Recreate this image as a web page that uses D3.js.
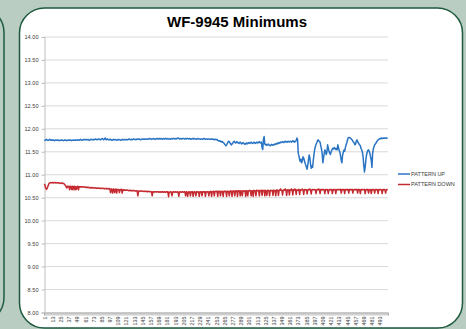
<!DOCTYPE html>
<html>
<head>
<meta charset="utf-8">
<script src="https://cdn.jsdelivr.net/npm/d3@7"></script>
<style>
  html, body { margin: 0; padding: 0; background: #b9cdc3; }
  svg { display: block; }
  text { font-family: "Liberation Sans", Arial, sans-serif; }
</style>
</head>
<body>
<svg id="chart" width="466" height="329"></svg>
<script>
// WF-9945 minimum readings per sample, both pattern directions
const title = "WF-9945 Minimums";
const seriesNames = ["PATTERN UP", "PATTERN DOWN"];
const yTicks = [8, 8.5, 9, 9.5, 10, 10.5, 11, 11.5, 12, 12.5, 13, 13.5, 14];

const patternUp = [
  11.75,11.74,11.75,11.76,11.75,11.74,11.74,11.75,11.76,11.75,11.74,11.75,
  11.74,11.75,11.74,11.73,11.74,11.75,11.74,11.74,11.75,11.74,11.73,11.74,
  11.74,11.75,11.74,11.74,11.73,11.74,11.75,11.74,11.74,11.73,11.74,11.75,
  11.74,11.74,11.75,11.74,11.73,11.74,11.74,11.75,11.74,11.74,11.75,11.74,
  11.74,11.75,11.75,11.74,11.75,11.76,11.75,11.74,11.75,11.75,11.76,11.75,
  11.75,11.76,11.75,11.75,11.76,11.75,11.74,11.75,11.76,11.76,11.75,11.75,
  11.76,11.75,11.76,11.77,11.76,11.75,11.76,11.76,11.77,11.76,11.75,11.76,
  11.77,11.78,11.76,11.75,11.77,11.79,11.76,11.75,11.77,11.76,11.75,11.76,
  11.75,11.76,11.75,11.74,11.75,11.76,11.75,11.75,11.76,11.75,11.74,11.75,
  11.75,11.76,11.75,11.75,11.74,11.75,11.76,11.75,11.75,11.76,11.75,11.75,
  11.76,11.75,11.75,11.76,11.77,11.76,11.75,11.76,11.76,11.75,11.76,11.77,
  11.76,11.76,11.75,11.76,11.77,11.76,11.76,11.77,11.76,11.75,11.76,11.76,
  11.77,11.76,11.76,11.77,11.76,11.76,11.77,11.77,11.76,11.77,11.78,11.77,
  11.77,11.76,11.77,11.77,11.78,11.77,11.76,11.77,11.77,11.78,11.77,11.77,
  11.78,11.77,11.77,11.78,11.77,11.76,11.77,11.78,11.77,11.77,11.78,11.77,
  11.77,11.78,11.77,11.77,11.76,11.77,11.78,11.77,11.77,11.78,11.78,11.77,
  11.77,11.78,11.77,11.78,11.79,11.78,11.77,11.77,11.78,11.77,11.77,11.78,
  11.78,11.77,11.77,11.78,11.77,11.78,11.78,11.77,11.77,11.78,11.77,11.76,
  11.77,11.78,11.77,11.77,11.78,11.77,11.77,11.76,11.77,11.78,11.77,11.77,
  11.77,11.76,11.77,11.77,11.76,11.77,11.78,11.77,11.76,11.77,11.77,11.76,
  11.77,11.77,11.76,11.76,11.77,11.76,11.76,11.77,11.76,11.75,11.76,11.76,
  11.75,11.76,11.74,11.73,11.72,11.73,11.71,11.72,11.70,11.71,11.69,11.68,
  11.66,11.64,11.62,11.64,11.67,11.70,11.72,11.71,11.68,11.66,11.64,11.66,
  11.68,11.70,11.72,11.70,11.68,11.69,11.71,11.70,11.68,11.67,11.69,11.70,
  11.68,11.66,11.67,11.69,11.68,11.66,11.65,11.67,11.68,11.66,11.67,11.69,
  11.68,11.67,11.69,11.70,11.68,11.67,11.68,11.70,11.69,11.67,11.68,11.70,
  11.69,11.68,11.70,11.71,11.69,11.68,11.70,11.58,11.54,11.76,11.82,11.66,
  11.64,11.65,11.63,11.64,11.66,11.64,11.63,11.62,11.64,11.65,11.63,11.64,
  11.65,11.64,11.66,11.65,11.67,11.66,11.68,11.67,11.69,11.68,11.70,11.69,
  11.70,11.71,11.70,11.69,11.71,11.72,11.70,11.71,11.70,11.72,11.71,11.70,
  11.71,11.72,11.70,11.71,11.73,11.72,11.70,11.72,11.71,11.74,11.79,11.76,
  11.46,11.40,11.32,11.28,11.33,11.25,11.30,11.38,11.35,11.30,11.24,11.20,
  11.15,11.11,11.20,11.32,11.42,11.36,11.22,11.13,11.18,11.15,11.30,11.42,
  11.53,11.60,11.65,11.68,11.72,11.75,11.73,11.71,11.70,11.62,11.55,11.46,
  11.25,11.35,11.45,11.53,11.50,11.43,11.48,11.64,11.58,11.50,11.46,11.43,
  11.48,11.52,11.55,11.57,11.55,11.58,11.56,11.54,11.56,11.53,11.64,11.58,
  11.52,11.48,11.40,11.30,11.25,11.42,11.48,11.53,11.50,11.58,11.63,11.68,
  11.74,11.79,11.80,11.80,11.79,11.78,11.76,11.75,11.72,11.70,11.68,11.64,
  11.66,11.72,11.75,11.71,11.68,11.66,11.64,11.62,11.56,11.53,11.48,11.38,
  11.20,11.05,11.15,11.30,11.42,11.48,11.52,11.53,11.50,11.45,11.38,11.30,
  11.15,11.46,11.55,11.60,11.64,11.66,11.68,11.71,11.73,11.75,11.76,11.77,
  11.78,11.77,11.79,11.78,11.78,11.79,11.78,11.79,11.79,11.78,11.79,11.79
];

const patternDown = [
  10.79,10.76,10.70,10.67,10.69,10.73,10.77,10.80,10.81,10.82,10.81,10.82,
  10.82,10.81,10.82,10.82,10.81,10.82,10.81,10.81,10.82,10.81,10.80,10.81,
  10.81,10.80,10.81,10.80,10.80,10.79,10.77,10.76,10.72,10.70,10.74,10.73,
  10.74,10.66,10.74,10.73,10.67,10.74,10.66,10.73,10.74,10.66,10.73,10.67,
  10.73,10.74,10.66,10.73,10.72,10.73,10.72,10.73,10.72,10.72,10.73,10.72,
  10.72,10.71,10.72,10.71,10.72,10.71,10.71,10.70,10.71,10.71,10.70,10.71,
  10.70,10.70,10.71,10.70,10.70,10.69,10.70,10.70,10.69,10.70,10.69,10.69,
  10.69,10.70,10.69,10.69,10.68,10.69,10.69,10.68,10.69,10.68,10.68,10.69,
  10.68,10.60,10.68,10.67,10.59,10.68,10.67,10.60,10.67,10.68,10.59,10.67,
  10.67,10.66,10.60,10.67,10.66,10.67,10.59,10.66,10.66,10.65,10.66,10.65,
  10.65,10.66,10.65,10.65,10.64,10.65,10.65,10.64,10.65,10.64,10.64,10.65,
  10.64,10.64,10.63,10.64,10.64,10.53,10.63,10.64,10.63,10.63,10.64,10.63,
  10.63,10.63,10.62,10.63,10.63,10.62,10.63,10.62,10.62,10.63,10.62,10.62,
  10.62,10.62,10.53,10.62,10.62,10.61,10.62,10.62,10.61,10.62,10.62,10.61,
  10.62,10.61,10.61,10.62,10.61,10.62,10.61,10.61,10.62,10.61,10.61,10.62,
  10.61,10.62,10.51,10.61,10.61,10.62,10.61,10.53,10.61,10.62,10.61,10.61,
  10.62,10.61,10.61,10.62,10.61,10.52,10.61,10.62,10.61,10.61,10.62,10.61,
  10.61,10.62,10.61,10.53,10.62,10.61,10.52,10.61,10.62,10.61,10.53,10.62,
  10.61,10.62,10.52,10.61,10.62,10.61,10.53,10.62,10.61,10.62,10.61,10.52,
  10.62,10.61,10.62,10.53,10.62,10.61,10.62,10.62,10.52,10.62,10.61,10.62,
  10.62,10.53,10.62,10.61,10.63,10.52,10.62,10.62,10.63,10.53,10.62,10.63,
  10.62,10.63,10.52,10.63,10.62,10.63,10.53,10.62,10.63,10.62,10.52,10.63,
  10.63,10.62,10.63,10.52,10.63,10.63,10.62,10.53,10.63,10.64,10.63,10.52,
  10.63,10.64,10.63,10.53,10.64,10.63,10.64,10.52,10.64,10.63,10.64,10.53,
  10.64,10.63,10.53,10.64,10.64,10.63,10.64,10.52,10.64,10.64,10.53,10.64,
  10.64,10.65,10.64,10.53,10.64,10.64,10.52,10.65,10.64,10.64,10.53,10.65,
  10.64,10.65,10.64,10.53,10.65,10.64,10.65,10.54,10.65,10.64,10.65,10.53,
  10.65,10.64,10.54,10.65,10.65,10.64,10.53,10.65,10.65,10.64,10.65,10.54,
  10.65,10.64,10.65,10.53,10.65,10.66,10.65,10.54,10.65,10.65,10.68,10.65,
  10.65,10.55,10.65,10.66,10.65,10.68,10.65,10.54,10.66,10.65,10.66,10.55,
  10.66,10.65,10.68,10.66,10.55,10.66,10.65,10.68,10.66,10.56,10.66,10.65,
  10.66,10.67,10.56,10.66,10.65,10.66,10.68,10.66,10.56,10.66,10.67,10.66,
  10.66,10.57,10.66,10.67,10.66,10.68,10.66,10.57,10.66,10.67,10.66,10.66,
  10.67,10.66,10.58,10.66,10.67,10.66,10.68,10.66,10.58,10.67,10.66,10.67,
  10.66,10.67,10.66,10.58,10.67,10.66,10.67,10.66,10.58,10.66,10.67,10.66,
  10.67,10.66,10.58,10.67,10.66,10.67,10.67,10.58,10.66,10.67,10.66,10.67,
  10.67,10.66,10.67,10.59,10.67,10.66,10.67,10.67,10.58,10.67,10.66,10.67,
  10.66,10.67,10.59,10.67,10.66,10.67,10.66,10.67,10.59,10.66,10.67,10.66,
  10.67,10.66,10.67,10.59,10.67,10.67,10.66,10.58,10.67,10.66,10.67,10.66,
  10.66,10.67,10.58,10.66,10.67,10.66,10.67,10.59,10.66,10.67,10.66,10.58,
  10.67,10.66,10.67,10.66,10.59,10.67,10.66,10.67,10.66,10.58,10.67,10.66,
  10.67,10.66,10.66,10.58,10.67,10.66,10.67,10.66,10.59,10.66,10.67,10.66
];

// Sample numbers 1..N along the category axis, labelled every 12th
const samples = patternUp.map((_, i) => i + 1);
const labelStep = 12;

const colors = ["#2a74c4", "#c42a30"];
const frameColor = "#1d5a3e";

const svg = d3.select("#chart");

// Neighbouring panel edge on the left
svg.append("rect")
  .attr("x", -40).attr("y", 8).attr("width", 44).attr("height", 314)
  .attr("rx", 25).attr("ry", 25)
  .attr("fill", "#b9cdc3").attr("stroke", frameColor).attr("stroke-width", 1.5);

// Chart panel
svg.append("rect")
  .attr("x", 19.5).attr("y", 8).attr("width", 443).attr("height", 320)
  .attr("rx", 25).attr("ry", 25)
  .attr("fill", "#ffffff").attr("stroke", frameColor).attr("stroke-width", 1.5);

svg.append("text")
  .attr("x", 237).attr("y", 27)
  .attr("text-anchor", "middle")
  .attr("font-size", 15).attr("font-weight", "bold").attr("fill", "#000")
  .text(title);

const plot = { left: 44, right: 388, top: 36.5, bottom: 312 };

const x = d3.scalePoint()
  .domain(samples)
  .range([plot.left, plot.right])
  .padding(0.5);

const y = d3.scaleLinear()
  .domain([8, 14])
  .range([plot.bottom, plot.top]);

// Horizontal gridlines
svg.append("g")
  .selectAll("line")
  .data(yTicks.filter(d => d > 8))
  .join("line")
  .attr("x1", plot.left).attr("x2", plot.right)
  .attr("y1", d => y(d) + 0.5).attr("y2", d => y(d) + 0.5)
  .attr("stroke", "#d9d9d9").attr("stroke-width", 1);

// Value axis
const yAxis = svg.append("g")
  .attr("transform", `translate(${plot.left + 0.5},0.5)`)
  .call(d3.axisLeft(y).tickValues(yTicks).tickFormat(d3.format(".2f")).tickSize(3).tickPadding(3));
yAxis.select(".domain").attr("stroke", "#bfbfbf");
yAxis.selectAll(".tick line").attr("stroke", "#bfbfbf");
yAxis.selectAll("text")
  .attr("font-size", 5.6).attr("fill", "#404040")
  .style("font-family", "'Liberation Sans', Arial, sans-serif");

// Category axis: a tick per sample, labels every 12th
const xAxis = svg.append("g")
  .attr("transform", `translate(0,${plot.bottom + 0.5})`)
  .call(d3.axisBottom(x)
    .tickValues(samples)
    .tickSize(3)
    .tickFormat(d => ((d - 1) % labelStep === 0 ? d : "")));
xAxis.select(".domain").attr("stroke", "#a6a6a6");
xAxis.selectAll(".tick line").attr("stroke", "#bdbdbd").attr("stroke-width", 0.6);
xAxis.selectAll("text")
  .attr("font-size", 5.4).attr("fill", "#404040")
  .style("font-family", "'Liberation Sans', Arial, sans-serif")
  .attr("text-anchor", "end")
  .attr("dy", "0.32em")
  .attr("transform", "translate(0,4) rotate(-90)")
  .attr("x", 0).attr("y", 0);

// Series lines
const line = d3.line()
  .x((d, i) => x(samples[i]))
  .y(d => y(d));

[patternUp, patternDown].forEach((values, k) => {
  svg.append("path")
    .datum(values)
    .attr("d", line)
    .attr("fill", "none")
    .attr("stroke", colors[k])
    .attr("stroke-width", 1.5)
    .attr("stroke-linejoin", "round");
});

// Legend
const legend = svg.append("g");
seriesNames.forEach((name, k) => {
  const ly = 174 + k * 10.5;
  legend.append("line")
    .attr("x1", 398).attr("x2", 410)
    .attr("y1", ly).attr("y2", ly)
    .attr("stroke", colors[k]).attr("stroke-width", 1.5);
  legend.append("text")
    .attr("x", 411).attr("y", ly)
    .attr("dy", "0.35em")
    .attr("font-size", 5.5).attr("fill", "#404040")
    .text(name);
});
</script>
</body>
</html>
